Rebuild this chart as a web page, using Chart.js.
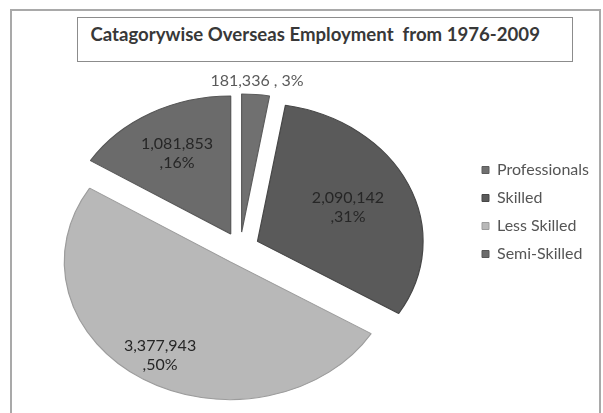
<!DOCTYPE html>
<html>
<head>
<meta charset="utf-8">
<title>Catagorywise Overseas Employment</title>
<script src="https://cdn.jsdelivr.net/npm/chart.js@4.4.1/dist/chart.umd.min.js"></script>
<style>
  html, body { margin: 0; padding: 0; background: #fff; }
  .frame { position: relative; width: 603px; height: 413px; overflow: hidden; }
  .frame::before {
    content: ""; position: absolute; left: 10px; top: 9px; right: 2px; bottom: -6px;
    border: 2px solid #a9a9a9;
  }
  .chart-title {
    position: absolute; left: 77px; top: 17px; width: 496px; height: 45px;
    box-sizing: border-box; border: 1.5px solid #8c8c8c; padding-left: 12.5px;
    font: bold 18.6px Lato, sans-serif; line-height: 33px; color: #383838;
    white-space: pre; background: #fff;
  }
  canvas { position: absolute; left: 0; top: 0; }
</style>
</head>
<body>
<div class="frame">
  <canvas id="employmentPie" width="603" height="413"></canvas>
  <div class="chart-title">Catagorywise Overseas Employment  from 1976-2009</div>
</div>
<script>
const categories = ["Professionals", "Skilled", "Less Skilled", "Semi-Skilled"];
const workers = [181336, 2090142, 3377943, 1081853];

const sliceColors = ["#707070", "#5a5a5a", "#b8b8b8", "#6b6b6b"];
const edgeColors = ["#5c5c5c", "#474747", "#9c9c9c", "#575757"];
// how far out along the slice each label sits (fraction of radius)
const labelDepth = [1.1, 0.6, 0.8, 0.67];

const EXPLODE = 16;   // gap between slices, px
const STRETCH = 1.2;  // pie is drawn a bit wider than tall
const RADIUS = 138;

const { ArcElement, PieController } = Chart;

// arc that is pulled out from the centre without growing, and squashed into an ellipse
class ExplodedArc extends ArcElement {
    static id = "explodedArc";

    draw(ctx) {
        const mid = (this.startAngle + this.endAngle) / 2;
        ctx.save();
        ctx.translate(this.x, this.y);
        ctx.scale(STRETCH, 1);
        ctx.translate(Math.cos(mid) * EXPLODE - this.x, Math.sin(mid) * EXPLODE - this.y);
        super.draw(ctx);
        ctx.restore();
    }
}

class ExplodedPieController extends PieController {
    static id = "explodedPie";
    static defaults = { dataElementType: "explodedArc" };
}

Chart.register(ExplodedArc, ExplodedPieController);

const total = workers.reduce((a, b) => a + b, 0);
const fmt = (n) => n.toLocaleString("en-US");

const sliceLabels = {
    id: "sliceLabels",
    afterDatasetsDraw(chart) {
        const { ctx } = chart;
        const arcs = chart.getDatasetMeta(0).data;
        ctx.save();
        ctx.font = "16px Lato, sans-serif";
        ctx.textAlign = "center";
        ctx.textBaseline = "middle";
        arcs.forEach((arc, i) => {
            const mid = (arc.startAngle + arc.endAngle) / 2;
            const d = arc.outerRadius * labelDepth[i] + EXPLODE;
            const x = arc.x + Math.cos(mid) * d * STRETCH;
            const y = arc.y + Math.sin(mid) * d;
            const pct = Math.round((workers[i] / total) * 100);
            if (labelDepth[i] > 1) {
                ctx.fillStyle = "#5a5a5a";
                ctx.fillText(fmt(workers[i]) + " , " + pct + "%", x, y);
            } else {
                ctx.fillStyle = "#262626";
                ctx.fillText(fmt(workers[i]), x, y - 9.5);
                ctx.fillText("," + pct + "%", x, y + 9.5);
            }
        });
        ctx.restore();
    }
};

// fixed legend column so the pie stays where it belongs
const legendWidth = {
    id: "legendWidth",
    beforeInit(chart) {
        const fit = chart.legend.fit;
        chart.legend.fit = function () {
            fit.call(this);
            this.width = 133;
        };
    }
};

new Chart(document.getElementById("employmentPie"), {
    type: "explodedPie",
    data: {
        labels: categories,
        datasets: [{
            data: workers,
            backgroundColor: sliceColors,
            borderColor: edgeColors,
            borderWidth: 1,
            clip: false
        }]
    },
    options: {
        responsive: false,
        animation: false,
        radius: RADIUS,
        layout: { padding: { left: 10, right: 0, top: 150, bottom: 67 } },
        plugins: {
            legend: {
                position: "right",
                align: "start",
                labels: {
                    boxWidth: 7,
                    boxHeight: 7,
                    padding: 12,
                    color: "#555555",
                    font: { family: "Lato", size: 16 }
                }
            },
            tooltip: { enabled: false }
        }
    },
    plugins: [sliceLabels, legendWidth]
});
</script>
</body>
</html>
